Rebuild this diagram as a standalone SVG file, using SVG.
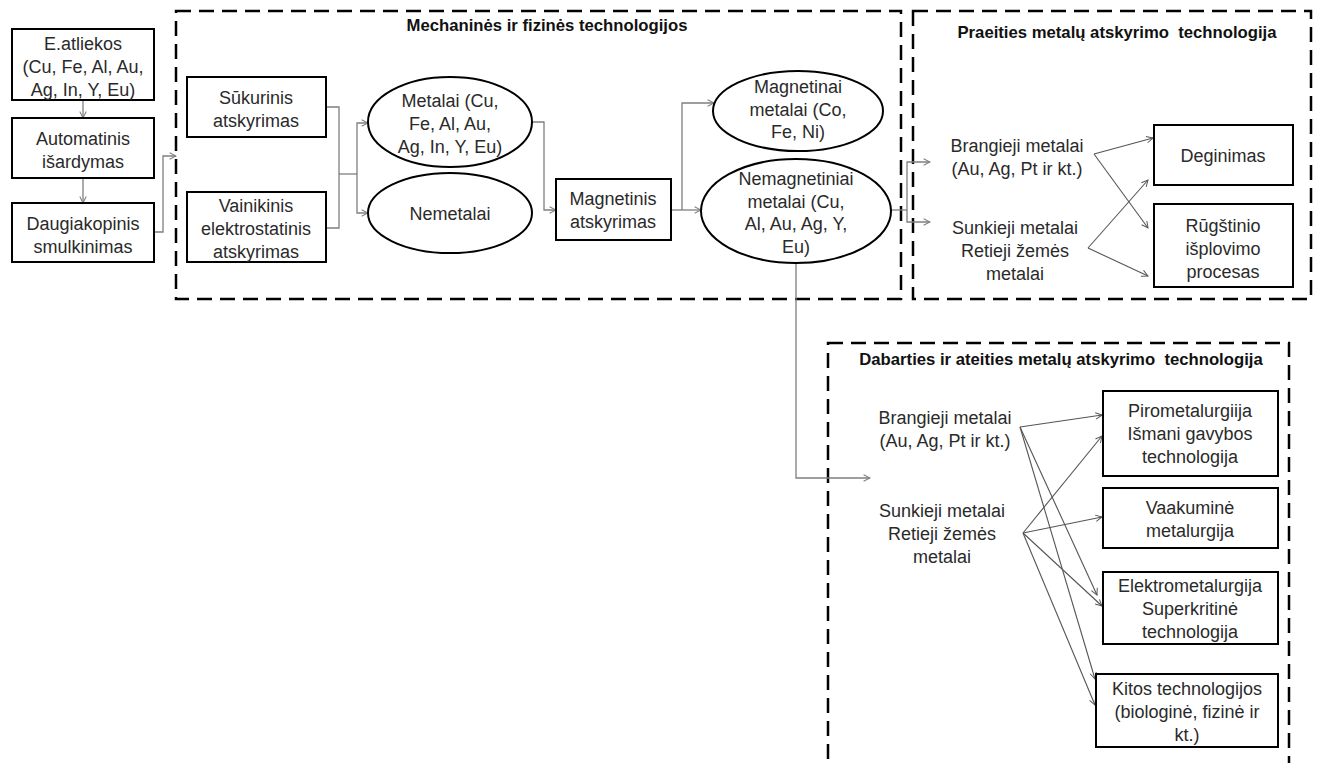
<svg xmlns="http://www.w3.org/2000/svg" width="1319" height="763" viewBox="0 0 1319 763">
  <defs>
    <style>
      .box { fill: #ffffff; stroke: #000000; stroke-width: 2; }
      .oval { fill: #ffffff; stroke: #000000; stroke-width: 2; }
      .zone { fill: none; stroke: #000000; stroke-width: 2.5; stroke-dasharray: 15 8; }
      .lbl { font-family: "Liberation Sans", Arial, sans-serif; font-size: 18px; fill: #2a2a2a; text-anchor: middle; }
      .ttl { font-family: "Liberation Sans", Arial, sans-serif; font-size: 16.7px; font-weight: bold; fill: #111111; text-anchor: middle; white-space: pre; }
      .link { fill: none; stroke: #7f7f7f; stroke-width: 1.3; }
      .fan { fill: none; stroke: #555555; stroke-width: 1.1; }
    </style>
    <marker id="arrow" viewBox="0 0 10 10" refX="9" refY="5" markerWidth="8" markerHeight="8" markerUnits="userSpaceOnUse" orient="auto">
      <path d="M1,1 L9,5 L1,9" fill="none" stroke="#7f7f7f" stroke-width="1.3"/>
    </marker>
    <marker id="arrow-dark" viewBox="0 0 10 10" refX="9" refY="5" markerWidth="8" markerHeight="8" markerUnits="userSpaceOnUse" orient="auto">
      <path d="M1,1 L9,5 L1,9" fill="none" stroke="#555555" stroke-width="1.2"/>
    </marker>
  </defs>

  <rect width="1319" height="763" fill="#ffffff"/>

  <!-- dashed stage frames -->
  <g id="zone-mechanical">
    <rect class="zone" x="176" y="11" width="725" height="288"/>
    <text class="ttl" x="547" y="31">Mechaninės ir fizinės technologijos</text>
  </g>
  <g id="zone-past">
    <rect class="zone" x="913" y="11" width="398" height="288"/>
    <text class="ttl" x="1117" y="38" xml:space="preserve">Praeities metalų atskyrimo  technologija</text>
  </g>
  <g id="zone-present">
    <rect class="zone" x="828" y="343" width="461" height="460"/>
    <text class="ttl" x="1061" y="365" xml:space="preserve">Dabarties ir ateities metalų atskyrimo  technologija</text>
  </g>

  <!-- connectors -->
  <g id="connectors">
    <path class="link" d="M83,100 V118" marker-end="url(#arrow)"/>
    <path class="link" d="M83,178 V203" marker-end="url(#arrow)"/>
    <path class="link" d="M154,232 H163 V156 H176" marker-end="url(#arrow)"/>
    <path class="link" d="M326,107 H339 V228 H326"/>
    <path class="link" d="M339,174 H357"/>
    <path class="link" d="M357,174 V123 H368" marker-end="url(#arrow)"/>
    <path class="link" d="M357,174 V213 H368" marker-end="url(#arrow)"/>
    <path class="link" d="M532,122 H544 V210 H556" marker-end="url(#arrow)"/>
    <path class="link" d="M671,210 H701" marker-end="url(#arrow)"/>
    <path class="link" d="M682,210 V103 H714" marker-end="url(#arrow)"/>
    <path class="link" d="M891,210 H907"/>
    <path class="link" d="M907,210 V162 H930" marker-end="url(#arrow)"/>
    <path class="link" d="M907,210 V222 H930" marker-end="url(#arrow)"/>
    <path class="link" d="M796,263 V478 H870" marker-end="url(#arrow)"/>

    <path class="fan" d="M1094,154 L1153,138" marker-end="url(#arrow-dark)"/>
    <path class="fan" d="M1094,154 L1148,228" marker-end="url(#arrow-dark)"/>
    <path class="fan" d="M1088,248 L1148,180" marker-end="url(#arrow-dark)"/>
    <path class="fan" d="M1088,248 L1148,276" marker-end="url(#arrow-dark)"/>

    <path class="fan" d="M1020,427 L1102,415" marker-end="url(#arrow-dark)"/>
    <path class="fan" d="M1020,427 L1097,595" marker-end="url(#arrow-dark)"/>
    <path class="fan" d="M1020,427 L1095,679" marker-end="url(#arrow-dark)"/>
    <path class="fan" d="M1023,533 L1102,436" marker-end="url(#arrow-dark)"/>
    <path class="fan" d="M1023,533 L1102,517" marker-end="url(#arrow-dark)"/>
    <path class="fan" d="M1023,533 L1102,606" marker-end="url(#arrow-dark)"/>
    <path class="fan" d="M1023,533 L1095,705" marker-end="url(#arrow-dark)"/>
  </g>

  <!-- input chain -->
  <g id="waste">
    <rect class="box" x="12" y="29" width="142" height="71"/>
    <text class="lbl" x="83" y="50">E.atliekos<tspan x="83" dy="23">(Cu, Fe, Al, Au,</tspan><tspan x="83" dy="23">Ag, In, Y, Eu)</tspan></text>
  </g>
  <g id="dismantling">
    <rect class="box" x="12" y="118" width="142" height="60"/>
    <text class="lbl" x="83" y="145">Automatinis<tspan x="83" dy="23">išardymas</tspan></text>
  </g>
  <g id="shredding">
    <rect class="box" x="12" y="203" width="142" height="59"/>
    <text class="lbl" x="83" y="230">Daugiakopinis<tspan x="83" dy="23">smulkinimas</tspan></text>
  </g>

  <!-- mechanical / physical separation -->
  <g id="eddy">
    <rect class="box" x="187" y="77" width="139" height="60"/>
    <text class="lbl" x="256" y="104">Sūkurinis<tspan x="256" dy="23">atskyrimas</tspan></text>
  </g>
  <g id="corona">
    <rect class="box" x="187" y="192" width="139" height="70"/>
    <text class="lbl" x="256" y="212">Vainikinis<tspan x="256" dy="23">elektrostatinis</tspan><tspan x="256" dy="23">atskyrimas</tspan></text>
  </g>
  <g id="metals">
    <ellipse class="oval" cx="450" cy="122" rx="82" ry="45"/>
    <text class="lbl" x="450" y="107">Metalai (Cu,<tspan x="450" dy="23">Fe, Al, Au,</tspan><tspan x="450" dy="23">Ag, In, Y, Eu)</tspan></text>
  </g>
  <g id="nonmetals">
    <ellipse class="oval" cx="450" cy="213" rx="82" ry="40"/>
    <text class="lbl" x="450" y="220">Nemetalai</text>
  </g>
  <g id="magnetic-sep">
    <rect class="box" x="556" y="179" width="115" height="61"/>
    <text class="lbl" x="613" y="205">Magnetinis<tspan x="613" dy="23">atskyrimas</tspan></text>
  </g>
  <g id="magnetic">
    <ellipse class="oval" cx="798" cy="111" rx="85" ry="40"/>
    <text class="lbl" x="798" y="93">Magnetinai<tspan x="798" dy="22.5">metalai (Co,</tspan><tspan x="798" dy="22.5">Fe, Ni)</tspan></text>
  </g>
  <g id="nonmagnetic">
    <ellipse class="oval" cx="796" cy="211" rx="95" ry="52"/>
    <text class="lbl" x="796" y="185">Nemagnetiniai<tspan x="796" dy="22.5">metalai (Cu,</tspan><tspan x="796" dy="22.5">Al, Au, Ag, Y,</tspan><tspan x="796" dy="22.5">Eu)</tspan></text>
  </g>

  <!-- past recovery -->
  <g id="past-precious">
    <text class="lbl" x="1017" y="152">Brangieji metalai<tspan x="1017" dy="23">(Au, Ag, Pt ir kt.)</tspan></text>
  </g>
  <g id="past-heavy">
    <text class="lbl" x="1015" y="234">Sunkieji metalai<tspan x="1015" dy="23">Retieji žemės</tspan><tspan x="1015" dy="23">metalai</tspan></text>
  </g>
  <g id="burning">
    <rect class="box" x="1154" y="125" width="139" height="60"/>
    <text class="lbl" x="1223" y="162">Deginimas</text>
  </g>
  <g id="acid-leaching">
    <rect class="box" x="1154" y="204" width="139" height="83"/>
    <text class="lbl" x="1223" y="232">Rūgštinio<tspan x="1223" dy="23">išplovimo</tspan><tspan x="1223" dy="23">procesas</tspan></text>
  </g>

  <!-- present and future recovery -->
  <g id="now-precious">
    <text class="lbl" x="945" y="424">Brangieji metalai<tspan x="945" dy="23">(Au, Ag, Pt ir kt.)</tspan></text>
  </g>
  <g id="now-heavy">
    <text class="lbl" x="942" y="517">Sunkieji metalai<tspan x="942" dy="23">Retieji žemės</tspan><tspan x="942" dy="23">metalai</tspan></text>
  </g>
  <g id="pyro">
    <rect class="box" x="1103" y="391" width="175" height="85"/>
    <text class="lbl" x="1190" y="417">Pirometalurgiija<tspan x="1190" dy="23">Išmani gavybos</tspan><tspan x="1190" dy="23">technologija</tspan></text>
  </g>
  <g id="vacuum">
    <rect class="box" x="1103" y="488" width="175" height="60"/>
    <text class="lbl" x="1190" y="514">Vaakuminė<tspan x="1190" dy="23">metalurgija</tspan></text>
  </g>
  <g id="electro">
    <rect class="box" x="1103" y="572" width="175" height="72"/>
    <text class="lbl" x="1190" y="592">Elektrometalurgija<tspan x="1190" dy="23">Superkritinė</tspan><tspan x="1190" dy="23">technologija</tspan></text>
  </g>
  <g id="other">
    <rect class="box" x="1096" y="674" width="182" height="73"/>
    <text class="lbl" x="1187" y="695">Kitos technologijos<tspan x="1187" dy="23">(biologinė, fizinė ir</tspan><tspan x="1187" dy="23">kt.)</tspan></text>
  </g>
</svg>
